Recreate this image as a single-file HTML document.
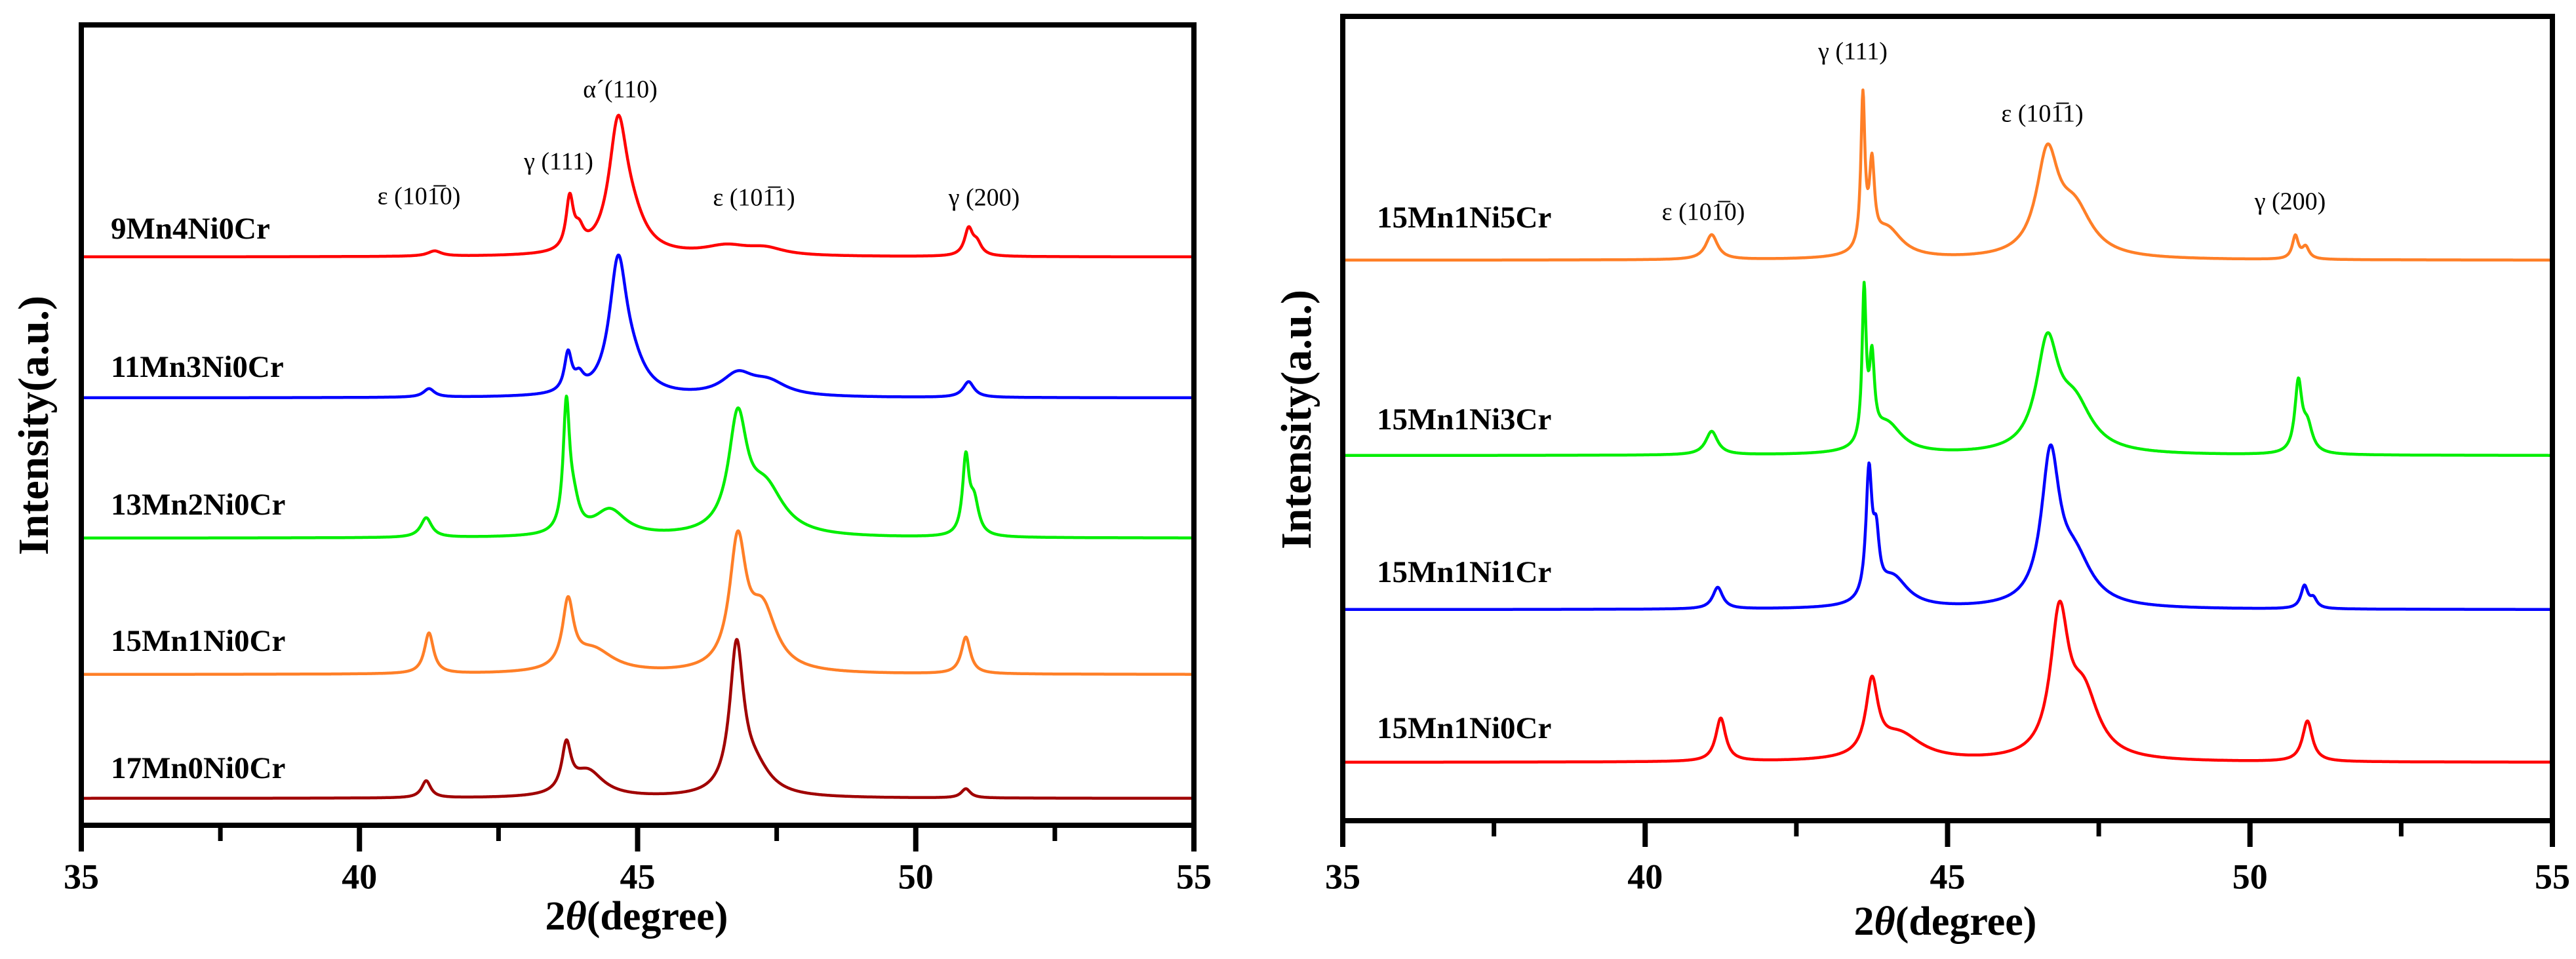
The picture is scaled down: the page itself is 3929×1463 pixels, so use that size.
<!DOCTYPE html>
<html><head><meta charset="utf-8">
<style>
html,body{margin:0;padding:0;background:#fff;}
svg{display:block;}
svg text{font-family:"Liberation Serif","Times New Roman",serif;}
</style></head>
<body>
<svg id="fig" width="3929" height="1463" viewBox="0 0 3929 1463" xmlns="http://www.w3.org/2000/svg" font-family="Liberation Serif, serif"></svg>
<script>
// ---- data ----
const xTicks = [35, 40, 45, 50, 55];
const xMinor = [37.5, 42.5, 47.5, 52.5];
// left panel series (peak centers, heights in a.u. px, widths deg)
const leftNames = ["9Mn4Ni0Cr", "11Mn3Ni0Cr", "13Mn2Ni0Cr", "15Mn1Ni0Cr", "17Mn0Ni0Cr"];
const leftOffsets = [392, 607, 821, 1029, 1218];
const leftColors = ["#ff0000", "#0000ff", "#00ee00", "#ff7f27", "#a00000"];
const leftCenters = [
  [41.35, 43.78, 43.95, 44.65, 44.9, 46.6, 47.3, 50.95, 51.1],
  [41.25, 43.75, 43.95, 44.65, 44.9, 46.8, 47.35, 50.95],
  [41.2, 43.72, 43.85, 44.5, 46.8, 47.3, 50.9, 51.05],
  [41.25, 43.75, 44.2, 46.8, 47.25, 50.9],
  [41.2, 43.72, 44.1, 46.78, 47.1, 50.9]
];
const leftHeights = [
  [8, 78, 25, 190, 40, 14, 10, 40, 18],
  [13, 58, 20, 195, 35, 32, 20, 24],
  [30, 190, 40, 40, 170, 70, 115, 50],
  [62, 100, 35, 190, 90, 56],
  [26, 70, 40, 220, 40, 14]
];
const leftWidths = [
  [0.15, 0.08, 0.1, 0.2, 0.3, 0.5, 0.4, 0.09, 0.1],
  [0.12, 0.08, 0.1, 0.19, 0.3, 0.35, 0.4, 0.12],
  [0.12, 0.07, 0.12, 0.35, 0.2, 0.4, 0.07, 0.1],
  [0.1, 0.12, 0.45, 0.18, 0.3, 0.1],
  [0.1, 0.1, 0.35, 0.15, 0.35, 0.1]
];
// right panel series
const rightNames = ["15Mn1Ni5Cr", "15Mn1Ni3Cr", "15Mn1Ni1Cr", "15Mn1Ni0Cr"];
const rightOffsets = [397, 695, 930, 1163];
const rightColors = ["#ff7f27", "#00ee00", "#0000ff", "#ff0000"];
const rightCenters = [
  [41.1, 43.6, 43.75, 44.0, 46.65, 47.1, 50.75, 50.92],
  [41.1, 43.62, 43.75, 44.0, 46.65, 47.1, 50.8, 50.95],
  [41.2, 43.7, 43.82, 44.1, 46.7, 47.1, 50.9, 51.05],
  [41.25, 43.75, 44.2, 46.85, 47.25, 50.95]
];
const rightHeights = [
  [38, 230, 120, 45, 150, 70, 35, 18],
  [36, 230, 120, 45, 160, 70, 105, 40],
  [33, 190, 80, 45, 220, 70, 34, 14],
  [66, 110, 40, 210, 95, 62]
];
const rightWidths = [
  [0.12, 0.04, 0.05, 0.3, 0.22, 0.35, 0.06, 0.07],
  [0.12, 0.04, 0.05, 0.3, 0.22, 0.35, 0.07, 0.1],
  [0.1, 0.06, 0.06, 0.3, 0.18, 0.35, 0.07, 0.07],
  [0.1, 0.12, 0.45, 0.18, 0.3, 0.1]
];

const NS = "http://www.w3.org/2000/svg";
const svg = document.getElementById("fig");
const SERIF = "'Liberation Serif', 'Times New Roman', serif";
function mk(tag, attrs, parent) {
  const e = document.createElementNS(NS, tag);
  for (const k in attrs) e.setAttribute(k, attrs[k]);
  if (tag === "text") e.style.fontFamily = SERIF;
  (parent || svg).appendChild(e);
  return e;
}
function intensity(x, cs, hs, ws) {
  let s = 0;
  for (let i = 0; i < cs.length; i++) {
    const d = (x - cs[i]) / ws[i];
    s += hs[i] / (1 + d * d);
  }
  return s;
}

function panel(P) {
  const g = mk("g", {});
  
  
  const xs = v => P.x0 + (v - 35) / 20 * (P.x1 - P.x0);
  for (let s = 0; s < P.names.length; s++) {
    let d = "";
    for (let k = 0; k <= 2000; k++) {
      const xv = 35 + k * 0.01;
      const y = P.offsets[s] - intensity(xv, P.centers[s], P.heights[s], P.widths[s]);
      d += (k ? "L" : "M") + xs(xv).toFixed(1) + " " + y.toFixed(1);
    }
    const p = mk("path", {d: d, fill: "none", stroke: P.colors[s], "stroke-width": 4.5, "stroke-linejoin": "round"}, g);
    
    
    const t = mk("text", {x: P.labelX, y: P.labelY[s], "font-size": 47, "font-weight": "bold", "dominant-baseline": "middle"}, g);
    t.textContent = P.names[s];
    
    
  }
  const fr = mk("rect", {x: P.x0, y: P.y0, width: P.x1 - P.x0, height: P.y1 - P.y0, fill: "none", stroke: "#000", "stroke-width": 8}, g);
  
  
  for (const v of xTicks) {
    const l = mk("line", {x1: xs(v), x2: xs(v), y1: P.y1, y2: P.y1 + 40, stroke: "#000", "stroke-width": 8}, g);
    
    
    const t = mk("text", {x: xs(v), y: P.tickY, "font-size": 54, "font-weight": "bold", "text-anchor": "middle", "dominant-baseline": "middle"}, g);
    t.textContent = v;
    
    
  }
  for (const v of xMinor) {
    const l = mk("line", {x1: xs(v), x2: xs(v), y1: P.y1, y2: P.y1 + 24, stroke: "#000", "stroke-width": 7}, g);
    
    
  }
  for (const a of P.ann) {
    const t = mk("text", {x: a[1], y: a[2], "font-size": 38, "text-anchor": "middle", "dominant-baseline": "middle"}, g);
    t.textContent = a[0];
    
    
  }
  const xt = mk("text", {x: P.xtX, y: P.xtY, "font-size": 62, "font-weight": "bold", "text-anchor": "middle", "dominant-baseline": "middle"}, g);
  xt.innerHTML = '2<tspan font-style="italic">θ</tspan>(degree)';
  
  
  const yt = mk("text", {x: 0, y: 0, "font-size": 66, "font-weight": "bold", "text-anchor": "middle", "dominant-baseline": "middle", transform: "translate(" + P.ytX + "," + P.ytY + ") rotate(-90)"}, g);
  yt.textContent = "Intensity(a.u.)";
  
  
}

panel({id: "left", x0: 124, x1: 1821, y0: 38, y1: 1259, names: leftNames, offsets: leftOffsets, colors: leftColors,
  centers: leftCenters, heights: leftHeights, widths: leftWidths, labelX: 169, labelY: [353, 564, 774, 982, 1176],
  tickY: 1343, xtX: 971, xtY: 1404, ytX: 58, ytY: 649,
  ann: [["ε (101\u03050)", 639, 303], ["γ (111)", 852, 250], ["α\u00b4(110)", 946, 140], ["ε (101\u03051)", 1150, 305], ["γ (200)", 1501, 305]]});
panel({id: "right", x0: 2048, x1: 3893, y0: 25, y1: 1252, names: rightNames, offsets: rightOffsets, colors: rightColors,
  centers: rightCenters, heights: rightHeights, widths: rightWidths, labelX: 2100, labelY: [336, 644, 877, 1115],
  tickY: 1343, xtX: 2967, xtY: 1412, ytX: 1984, ytY: 640,
  ann: [["ε (101\u03050)", 2598, 327], ["γ (111)", 2826, 82], ["ε (101\u03051)", 3115, 177], ["γ (200)", 3493, 311]]});
</script>
</body></html>
